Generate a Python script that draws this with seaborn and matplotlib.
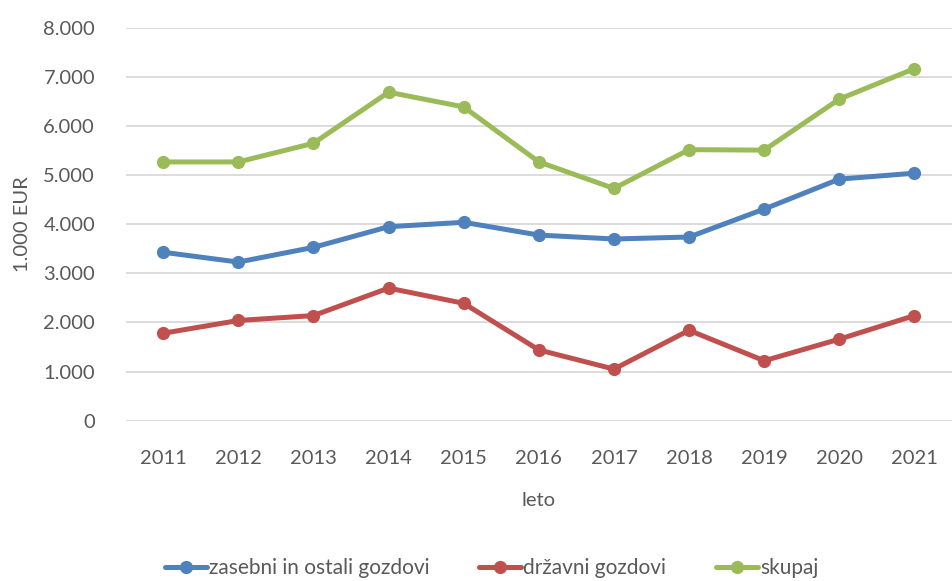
import numpy as np
import pandas as pd
import matplotlib
matplotlib.use("Agg")
import matplotlib.pyplot as plt
from matplotlib.ticker import FuncFormatter
import seaborn as sns

sns.set_theme(style="white")
plt.rcParams['font.family'] = ['Lato', 'DejaVu Sans']

# podatki (1.000 EUR)
leta = [2011, 2012, 2013, 2014, 2015, 2016, 2017, 2018, 2019, 2020, 2021]
zasebni = [3430, 3230, 3530, 3950, 4040, 3780, 3700, 3740, 4310, 4920, 5040]
drzavni = [1780, 2040, 2140, 2700, 2390, 1440, 1050, 1840, 1220, 1660, 2140]
skupaj = [5270, 5270, 5650, 6690, 6390, 5270, 4730, 5520, 5510, 6550, 7170]

serije = ['zasebni in ostali gozdovi', 'državni gozdovi', 'skupaj']
barve = ['#4F81BD', '#C0504D', '#9BBB59']

df = pd.DataFrame({'leto': leta, serije[0]: zasebni, serije[1]: drzavni, serije[2]: skupaj})
df = df.melt(id_vars='leto', var_name='serija', value_name='vrednost')

fig = plt.figure(figsize=(9.52, 5.81), dpi=100)
ax = fig.add_axes([0.132, 0.276, 0.868, 0.676])

for s, c in zip(serije, barve):
    d = df[df['serija'] == s]
    sns.lineplot(data=d, x='leto', y='vrednost', color=c, linewidth=3.6,
                 marker='o', markersize=9.5, markeredgewidth=0, label=s, ax=ax)

ax.set_xlim(2010.5, 2021.5)
ax.set_ylim(0, 8000)
ax.set_yticks(np.arange(0, 8001, 1000))
ax.set_xticks(leta)
ax.yaxis.set_major_formatter(FuncFormatter(lambda v, p: f"{v:,.0f}".replace(",", ".")))
ax.grid(axis='y', color='#D9D9D9', linewidth=1.3)
ax.set_axisbelow(True)
sns.despine(ax=ax, left=True, bottom=True)
ax.tick_params(axis='both', length=0, labelsize=14.5, colors='#595959')
ax.tick_params(axis='x', pad=21)
ax.tick_params(axis='y', pad=22)

ax.set_xlabel('leto', fontsize=14.5, color='#595959', labelpad=18)
ax.set_ylabel('1.000 EUR', fontsize=14.5, color='#595959', labelpad=9)

ax.legend(loc='center', bbox_to_anchor=(0.443, -0.375), ncol=3, frameon=False,
          fontsize=15, labelcolor='#595959', handlelength=2.0, handletextpad=0.1,
          columnspacing=2.4)

fig.savefig('out.png', dpi=100)
